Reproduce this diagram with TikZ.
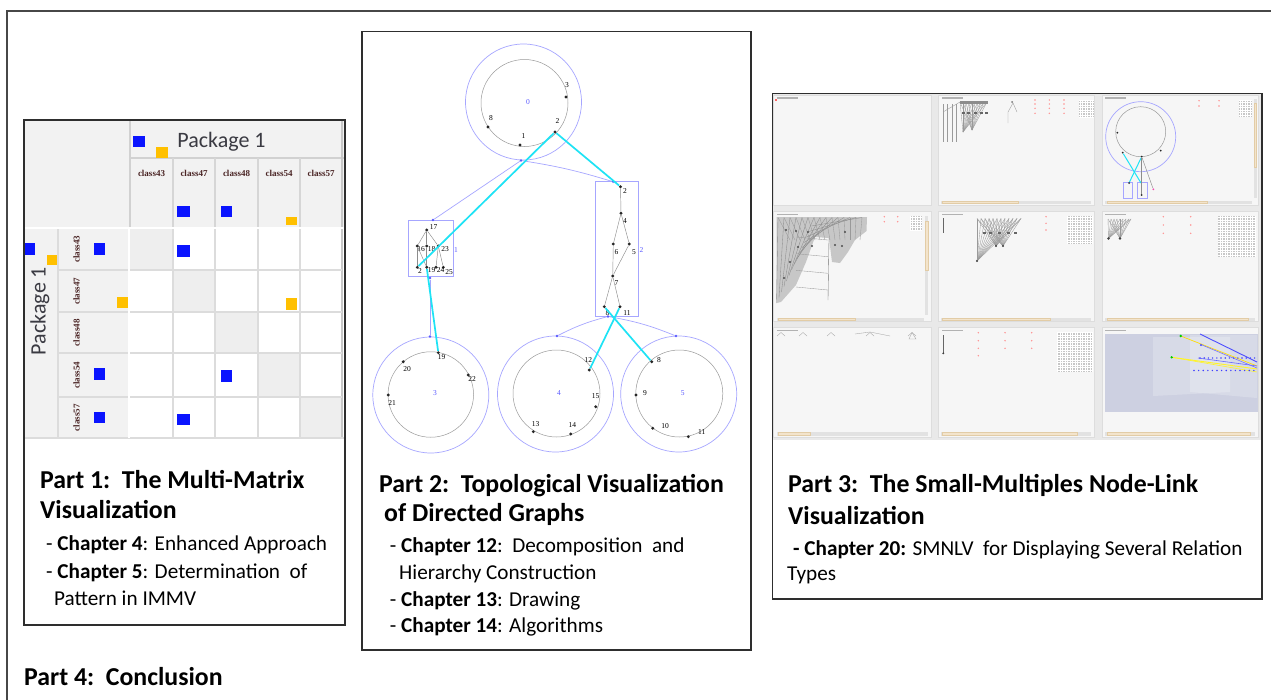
\documentclass[tikz,border=0pt]{standalone}
\usepackage{fontspec}
\setmainfont{Carlito}
\newfontfamily\numfont{Liberation Serif}
\usetikzlibrary{calc}

\definecolor{framegray}{HTML}{474747}
\definecolor{boxgray}{HTML}{2E2E2E}
\definecolor{hdrbg}{HTML}{F2F2F2}
\definecolor{gridgray}{HTML}{DCDCDC}
\definecolor{diaggray}{HTML}{EEEEEE}
\definecolor{mblue}{HTML}{0A14FF}
\definecolor{morange}{HTML}{FFC000}
\definecolor{pkgtext}{HTML}{3A3A42}
\definecolor{clstext}{HTML}{4A2424}
\definecolor{lblue}{HTML}{A6A6FF}
\definecolor{lbtext}{HTML}{5A5AFF}
\definecolor{cyanc}{HTML}{1EE3F5}
\definecolor{shotbg}{HTML}{E9E9E9}
\definecolor{panelbg}{HTML}{F6F6F6}
\definecolor{panelline}{HTML}{DDDDDD}
\definecolor{thumbc}{HTML}{F3E4CC}
\definecolor{thumbline}{HTML}{E2CCA6}
\definecolor{trackc}{HTML}{E2E2E2}
\definecolor{reddot}{HTML}{FF9090}
\definecolor{lavc}{HTML}{CDD0E1}
\definecolor{sprayc}{HTML}{9A9A9A}

\tikzset{
  partbox/.style={draw=boxgray, line width=1.4},
  gline/.style={draw=gridgray, line width=2.6},
  bsq/.style={fill=mblue},
  osq/.style={fill=morange},
  ttl/.style={anchor=base west, inner sep=0, font=\fontsize{25.8}{30}\selectfont\bfseries},
  chp/.style={anchor=base west, inner sep=0, font=\fontsize{21.2}{25}\selectfont},
  pkg/.style={inner sep=0, text=pkgtext, font=\fontsize{22}{24}\selectfont},
  cls/.style={inner sep=0, text=clstext, font=\numfont\bfseries\fontsize{9}{10}\selectfont},
  gdot/.style={circle, fill=black!85, inner sep=0, minimum size=3.2},
  glab/.style={inner sep=0, font=\numfont\fontsize{7.5}{8}\selectfont},
  blab/.style={inner sep=0, text=lbtext, font=\numfont\fontsize{7.5}{8}\selectfont},
  outc/.style={circle, draw=lblue, line width=0.7, inner sep=0},
  innc/.style={circle, draw=black!40, line width=0.5, inner sep=0},
  hmk/.style={circle, fill=lbtext, inner sep=0, minimum size=2.6},
  cyanl/.style={draw=cyanc, line width=1.7},
  hier/.style={draw=lblue, line width=0.7},
  tedge/.style={draw=black!45, line width=0.45},
  clbox/.style={draw=lblue, line width=0.8},
  panel/.style={draw=panelline, fill=panelbg, line width=0.6},
  thumb/.style={fill=thumbc, draw=thumbline, line width=0.4},
  track/.style={fill=trackc},
  rdot/.style={fill=reddot},
  spray/.style={draw=sprayc, line width=0.35},
  tinygrid/.style={fill=black!22},
}

\begin{document}
\begin{tikzpicture}[x=1pt,y=-1pt]
\useasboundingbox (0,0) rectangle (1271,699);
\fill[white] (0,0) rectangle (1271,699);

% outer frame, running off the right and bottom edges
\draw[framegray, line width=2] (7,720) -- (7,11) -- (1290,11);

% ================= Part 1: multi-matrix =================
\fill[hdrbg] (24,120) rectangle (345,227);
\fill[hdrbg] (24,229) rectangle (128,438);
\fill[white] (130,229) rectangle (342,438);
\foreach \xa/\ya/\xb/\yb in {130/229/173/270, 173/270/215/312, 215/312/258/353, 258/353/300/397, 300/397/342/438}
  \fill[diaggray] (\xa,\ya) rectangle (\xb,\yb);
% header grid
\draw[gline, draw=black!18] (130,120) -- (130,227);
\draw[gline, draw=black!18] (130,158) -- (345,158);
\foreach \x in {173,215,258,300}
  \draw[gline, draw=black!16] (\x,158) -- (\x,227);
\draw[gline, draw=black!22] (342,120) -- (342,438);
% cell grid
\foreach \x in {173,215,258,300}
  \draw[gline] (\x,229) -- (\x,438);
\foreach \y in {270,312,353,397}
  \draw[gline] (58,\y) -- (342,\y);
\draw[gline] (58,229) -- (58,438);
\draw[gline] (24,438) -- (345,438);
\draw[white, line width=2] (24,228) -- (345,228);
\draw[white, line width=2] (129,229) -- (129,438);

% headings
\node[pkg] (pkgtop) at (221.5,141.5) {Package 1};
\node[pkg, rotate=90] (pkgleft) at (40,311) {Package 1};
\foreach \lab/\x in {class43/151.5, class47/194, class48/236.5, class54/279, class57/321}
  \node[cls] (col-\lab) at (\x,173) {\lab};
\foreach \lab/\y in {class43/249, class47/291, class48/332.5, class54/375, class57/417.5}
  \node[cls, rotate=90] (row-\lab) at (76.5,\y) {\lab};

% relation markers
\fill[bsq] (133,136) rectangle (145,147);
\fill[osq] (156,147) rectangle (168,158);
\fill[bsq] (177,206) rectangle (190,217);
\fill[bsq] (221,206) rectangle (232,217);
\fill[osq] (286,217) rectangle (297,225);
\fill[bsq] (24.5,243) rectangle (35,255);
\fill[osq] (47,255) rectangle (57,265);
\fill[bsq] (94,243) rectangle (105,255);
\fill[osq] (117,297) rectangle (128,308);
\fill[bsq] (94,368) rectangle (105,380);
\fill[bsq] (94,412) rectangle (105,423);
\fill[bsq] (177,245) rectangle (190,257);
\fill[osq] (286,298) rectangle (297,310);
\fill[bsq] (221,370) rectangle (232,382);
\fill[bsq] (177,414) rectangle (190,425);

\draw[partbox] (24,120) rectangle (345,625);

\node[ttl] (p1a) at (40,488) {Part 1:\ \ The Multi-Matrix};
\node[ttl] (p1b) at (40,518) {Visualization};
\node[chp] (p1c) at (46,550) {- \textbf{Chapter 4}: Enhanced Approach};
\node[chp] (p1d) at (46,578) {- \textbf{Chapter 5}: Determination\ \ of};
\node[chp] (p1e) at (54,605) {Pattern in IMMV};

% ================= Part 2: topological graph =================
\draw[partbox] (362,31.5) rectangle (751,650);

% clusters
\node[outc, minimum size=116] (c0o) at (523.5,102) {};
\node[innc, minimum size=87] (c0i) at (524.5,103) {};
\node[outc, minimum size=116] (c3o) at (430.8,395) {};
\node[innc, minimum size=85.5] (c3i) at (430.8,394.5) {};
\node[outc, minimum size=116] (c4o) at (555.5,394) {};
\node[innc, minimum size=87] (c4i) at (556.5,393.5) {};
\node[outc, minimum size=116] (c5o) at (678.7,394) {};
\node[innc, minimum size=87] (c5i) at (679.3,393.5) {};
\draw[clbox] (408.3,220) rectangle (453.3,276.7);
\draw[clbox] (595,181.7) rectangle (638.3,316);

\node[blab] (k0) at (528,102) {0};
\node[blab] (k1) at (456,250) {1};
\node[blab] (k2) at (641.5,250) {2};
\node[blab] (k3) at (435,393) {3};
\node[blab] (k4) at (559,393.5) {4};
\node[blab] (k5) at (682.7,393.5) {5};

% hierarchy markers and links
\node[hmk] (m0) at (521,160.5) {};
\node[hmk] (mlt) at (433,220) {};
\node[hmk] (mrt) at (613,181.7) {};
\node[hmk] (mlb) at (430,278) {};
\node[hmk] (mrb) at (608,316.5) {};
\node[hmk] (m3) at (430,336.5) {};
\node[hmk] (m4) at (557,336) {};
\node[hmk] (m5) at (676,336) {};
\draw[hier] (m0) -- (mlt);
\draw[hier] (m0) to[bend left=4] (mrt);
\draw[hier] (mlb) -- (m3);
\draw[hier] (mrb) to[bend right=6] (m4);
\draw[hier] (mrb) to[bend left=6] (m5);

% top cluster vertices
\node[gdot] (t3) at (566,97) {};
\node[gdot] (t8) at (488,127) {};
\node[gdot] (t1) at (520,145) {};
\node[gdot] (t2) at (555,132) {};
\node[glab] (lt3) at (567,85.5) {3};
\node[glab] (lt8) at (491,118) {8};
\node[glab] (lt1) at (523.5,136) {1};
\node[glab] (lt2) at (557.5,121) {2};

% left box vertices
\node[gdot] (a17) at (426.7,230) {};
\node[gdot] (a16) at (417.3,246) {};
\node[gdot] (a18) at (426.7,246) {};
\node[gdot] (a23) at (438.3,246) {};
\node[gdot] (a2) at (417.3,267.3) {};
\node[gdot] (a19) at (426.7,267.3) {};
\node[gdot] (a24) at (436,267.3) {};
\node[gdot] (a25) at (443.3,267.3) {};
\node[glab] (la17) at (433.5,227.5) {17};
\node[glab] (la16) at (421,249.5) {16};
\node[glab] (la18) at (431.5,249.5) {18};
\node[glab] (la23) at (445,249.5) {23};
\node[glab] (la2) at (420,271) {2};
\node[glab] (la19) at (431.5,270.5) {19};
\node[glab] (la24) at (440.5,270.5) {24};
\node[glab] (la25) at (449,272) {25};
\draw[tedge] (a17) -- (a16);
\draw[tedge] (a17) -- (a18);
\draw[tedge] (a17) -- (a23);
\draw[tedge] (a16) -- (a2);
\draw[tedge] (a18) -- (a19);
\draw[tedge] (a23) -- (a24);
\draw[tedge] (a23) -- (a25);
\draw[tedge] (a16) -- (a19);

% right box vertices
\node[gdot] (b2) at (620.5,186.7) {};
\node[gdot] (b4) at (621,213.3) {};
\node[gdot] (b6) at (613.3,244) {};
\node[gdot] (b5) at (629.3,244) {};
\node[gdot] (b7) at (612.7,276) {};
\node[gdot] (b8) at (604.3,306.7) {};
\node[gdot] (b11) at (620,306.7) {};
\node[glab] (lb2) at (625,191) {2};
\node[glab] (lb4) at (625,221) {4};
\node[glab] (lb6) at (616.5,251.7) {6};
\node[glab] (lb5) at (634,251.7) {5};
\node[glab] (lb7) at (616.5,282.7) {7};
\node[glab] (lb8) at (607.5,313.3) {8};
\node[glab] (lb11) at (627,313.3) {11};
\draw[tedge] (b2) -- (b4);
\draw[tedge] (b4) -- (b6);
\draw[tedge] (b4) -- (b5);
\draw[tedge] (b6) -- (b7);
\draw[tedge] (b5) -- (b7);
\draw[tedge] (b7) -- (b8);
\draw[tedge] (b7) -- (b11);

% bottom clusters vertices
\node[gdot] (d19) at (438.3,352.7) {};
\node[gdot] (d20) at (403.3,361.7) {};
\node[gdot] (d22) at (468.3,375) {};
\node[gdot] (d21) at (388.3,395) {};
\node[glab] (ld19) at (441.5,357.5) {19};
\node[glab] (ld20) at (407,369.3) {20};
\node[glab] (ld22) at (472,379.3) {22};
\node[glab] (ld21) at (392,403.3) {21};

\node[gdot] (e12) at (589.3,370) {};
\node[gdot] (e15) at (595.7,406.7) {};
\node[gdot] (e13) at (533.3,431.7) {};
\node[gdot] (e14) at (570.7,434) {};
\node[glab] (le12) at (588.3,360) {12};
\node[glab] (le15) at (595.7,396) {15};
\node[glab] (le13) at (535.7,424.3) {13};
\node[glab] (le14) at (572.3,425) {14};

\node[gdot] (f8) at (651.7,361.7) {};
\node[gdot] (f9) at (636,395) {};
\node[gdot] (f10) at (652.7,428.3) {};
\node[gdot] (f11) at (688.3,436.7) {};
\node[glab] (lf8) at (659,360.5) {8};
\node[glab] (lf9) at (645,393.3) {9};
\node[glab] (lf10) at (665,426) {10};
\node[glab] (lf11) at (701.7,432.3) {11};

% inter-cluster edges
\draw[cyanl] (t2) -- (b2);
\draw[cyanl] (t2) -- (a2);
\draw[cyanl] (a19) -- (d19);
\draw[cyanl] (b8) -- (f8);
\draw[cyanl] (b11) -- (e12);

\node[ttl] (p2a) at (379,492) {Part 2:\ \ Topological Visualization};
\node[ttl] (p2b) at (384,521) {of Directed Graphs};
\node[chp] (p2c) at (389.7,552) {- \textbf{Chapter 12}:\ \ Decomposition\ \ and};
\node[chp] (p2d) at (399,579.5) {Hierarchy Construction};
\node[chp] (p2e) at (389.7,606) {- \textbf{Chapter 13}: Drawing};
\node[chp] (p2f) at (389.7,632) {- \textbf{Chapter 14}: Algorithms};

% ================= Part 3: small multiples =================
\fill[shotbg] (772.5,93.5) rectangle (1261.5,440);
\foreach \xa/\xb in {773.5/931, 938.5/1094.5, 1102/1258.5}
  \foreach \ya/\yb in {95/205, 211.7/321.7, 327.3/437} {
    \draw[panel] (\xa,\ya) rectangle (\xb,\yb);
    \fill[black!30] (\xa+3,\ya+2.3) rectangle (\xa+24,\ya+3.6);
  }
\fill[red!60] (775,99) rectangle (776.5,100.5);

% horizontal scrollbars
\foreach \xa/\xb/\ta/\tb/\y in {
   941/1091/942/1018/200.5, 1105/1252/1107/1207/200.5,
   777/924/778/855/317.5, 941/1091/942/1050/317.5, 1105/1255/1107/1248/317.5,
   777/928/778/810/432.3, 941/1091/942/1077/432.3, 1105/1255/1107/1250/432.3} {
  \fill[track] (\xa,\y) rectangle (\xb,\y+3.2);
  \draw[thumb] (\ta,\y+0.3) rectangle (\tb,\y+2.9);
}
% vertical scrollbars
\fill[track] (1253.5,99) rectangle (1256.5,198);
\draw[thumb] (1253.8,103) rectangle (1256.2,167);
\fill[track] (925,216) rectangle (928.3,315);
\draw[thumb] (925.3,221) rectangle (928,270);

% panel: aggregation tree
\foreach \x in {943,947,952,956} \draw[spray] (\x,104) -- (\x,142);
\foreach \x in {960,963,966,969,972,975,978,981,984,987} {
  \draw[spray] (\x,102) -- (963,132);
  \draw[spray] (\x,102) -- (972,130);
}
\fill[black!45] (960,101) rectangle (988,104);
\foreach \x in {963,968,975,981,986} \fill[black!60] (\x-1.5,112) rectangle (\x+1.5,114);
\draw[spray] (943,112) -- (960,102);
\draw[spray] (1013,103) -- (1008,112) -- (1008,123);
\draw[spray] (1013,103) -- (1017,112);
\fill[black!55] (1012,102) circle (1);
\foreach \x in {1035,1049.3,1064} \foreach \y in {100,104,108.3,113.3} \fill[rdot] (\x,\y) circle (0.8);
\fill[tinygrid] (1079.3,100) rectangle (1094,118.3);
\draw[white, line width=0.3, step=2.5pt] (1079.3,100) grid (1094,118.3);

% panel: nested-circle layout
\node[outc, minimum size=70] (s13o) at (1140.7,136.7) {};
\node[innc, minimum size=50] (s13i) at (1140.7,131.7) {};
\node[gdot, minimum size=2] (s1) at (1117.3,132.7) {};
\node[gdot, minimum size=2] (s2) at (1122.7,152.7) {};
\node[gdot, minimum size=2] (s3) at (1141.7,156.7) {};
\node[gdot, minimum size=2] (s4) at (1160.7,150.7) {};
\draw[clbox, line width=0.4] (1123.3,181.7) rectangle (1131.7,198.3);
\draw[clbox, line width=0.4] (1137,181.7) rectangle (1146.7,198.3);
\node[gdot, minimum size=2] (s5) at (1129,183) {};
\node[gdot, minimum size=2] (s6) at (1141.7,195) {};
\node[gdot, minimum size=2, fill=magenta!70] (s7) at (1153.3,189.3) {};
\draw[cyanl, line width=1] (s2) -- (1141,183);
\draw[cyanl, line width=1] (s3) -- (s5);
\draw[cyanl, line width=1] (s3) -- (1141.7,181);
\draw[tedge] (s3) -- (s6);
\draw[tedge] (s3) -- (s7);
\foreach \x in {1199,1219} \foreach \y in {100.7,106} \fill[rdot] (\x,\y) circle (0.8);
\fill[tinygrid] (1239.3,100) rectangle (1251.7,116.7);
\draw[white, line width=0.3, step=2.5pt] (1239.3,100) grid (1251.7,116.7);

% panel: dense wireframe
\fill[black!22] (776.5,217) -- (867,217) -- (866.5,231) -- (855,240) -- (848,252) -- (840,263) -- (832,262) -- (829,238)
   -- (815,237) -- (806,262) -- (796,285) -- (781,302) -- (776.5,303) -- cycle;
\foreach \i in {0,...,14} {
  \draw[spray, draw=black!45] (778+6*\i,217.5) -- (776.5+2.5*\i,303-5.5*\i);
  \draw[spray, draw=black!40] (778+6*\i,217.5) -- (790+5*\i,240);
}
\draw[spray, draw=black!55] (829,238) -- (828,300);
\foreach \y in {240,256.7,273.3,290} \draw[spray] (796,\y-3) -- (828,\y);
\foreach \p in {(786,230),(796,231),(808,232),(812,246),(798,247),(790,262),(784,278),(835,245),(842,246),(845,232)}
  \fill[black!70] \p circle (1.1);
\foreach \x in {884.3,897.7} \foreach \y in {216.7,221.7} \fill[rdot] (\x,\y) circle (0.8);
\fill[tinygrid] (910,216) rectangle (922.3,230);
\draw[white, line width=0.3, step=2.5pt] (910,216) grid (922.3,230);

% panel: fan-shaped trees
\draw[spray, draw=black!60, line width=0.8] (943.3,218.3) -- (943.3,233.3);
\foreach \x in {977,981,985,989,993,997,1001,1005,1009,1013,1017,1021} {
  \draw[spray] (\x,218.5) -- (977,261);
  \draw[spray] (\x,218.5) -- (996,246);
  \draw[spray] (\x,218.5) -- (1003,246);
}
\foreach \x in {984,990,999,1008,1015} \fill[black!60] (\x-1.5,232) rectangle (\x+1.5,234);
\foreach \p in {(977,261),(996,246),(1003,246)} \fill[black!75] \p circle (1.2);
\foreach \y in {216.7,223.3,230} \fill[rdot] (1046,\y) circle (0.8);
\fill[tinygrid] (1067.3,216) rectangle (1092.7,244);
\draw[white, line width=0.3, step=2.5pt] (1067.3,216) grid (1092.7,244);

% panel: trees
\foreach \x in {1108,1111,1114,1117,1120,1123,1126,1129,1131} {
  \draw[spray] (\x,219) -- (1108.5,238.5);
  \draw[spray] (\x,219) -- (1120,238.5);
}
\foreach \p in {(1108.5,238.5),(1120,238.5)} \fill[black!75] \p circle (1.3);
\foreach \x in {1163.3,1190.7} \foreach \y in {216.7,225,233.3} \fill[rdot] (\x,\y) circle (0.8);
\fill[tinygrid] (1218.3,216) rectangle (1255,256.7);
\draw[white, line width=0.3, step=2.5pt] (1218.3,216) grid (1255,256.7);

% panel: small forest
\foreach \x in {781,803,831,870,912} {
  \draw[spray, draw=black!35] (\x-4,336) -- (\x,332.5) -- (\x+4,336);
}
\draw[spray, draw=black!35] (855,334) -- (870,332) -- (890,336);
\draw[spray, draw=black!35] (912,332.5) -- (909,339) -- (916,339) -- cycle;

% panel: chain and matrix
\draw[spray, draw=black!60, line width=0.9] (943.3,335) -- (943.3,353.3);
\fill[black!75] (943.3,353.3) circle (1.1);
\foreach \x in {978.3,1005,1031.7} \foreach \y in {332.7,340.7,348.3} \fill[rdot] (\x,\y) circle (0.8);
\fill[rdot] (978.3,355.7) circle (0.8);
\fill[tinygrid] (1057.3,331.7) rectangle (1092.7,371.7);
\draw[white, line width=0.3, step=2.5pt] (1057.3,331.7) grid (1092.7,371.7);

% panel: 3D view
\fill[lavc] (1104.5,333.5) rectangle (1258,411.5);
\fill[white, opacity=0.22] (1153,337) -- (1230,337) -- (1230,392) -- (1153,396) -- cycle;
\fill[white, opacity=0.22] (1190,335) -- (1257,335) -- (1257,398) -- (1190,392) -- cycle;
\draw[yellow!80!orange, line width=0.7] (1180.7,336) -- (1257,366);
\draw[yellow!85, line width=0.9] (1171.7,357.3) -- (1257,369);
\draw[yellow!85, line width=0.6] (1171.7,357.3) -- (1257,372);
\draw[blue!70, line width=0.9] (1200,334) -- (1257,362);
\draw[blue!55, line width=0.6] (1202,345) -- (1257,368);
\draw[blue!60, line width=0.6] (1198,358) -- (1257,366);
\foreach \i in {0,...,13} {
  \fill[blue!75] (1200+4.2*\i,358) circle (0.8);
  \fill[blue!75] (1194+4.6*\i,370.5) circle (0.8);
}
\fill[green!80!black] (1180.7,336) circle (1.3);
\fill[green!80!black] (1171.7,357.3) circle (1.3);
\fill[blue!75] (1201,345) circle (1.1);

\draw[partbox, line width=1.8] (772.5,93.5) rectangle (1262,599);

\node[ttl] (p3a) at (788,492) {Part 3:\ \ The Small-Multiples Node-Link};
\node[ttl] (p3b) at (788,524) {Visualization};
\node[chp] (p3c) at (793,555) {\textbf{- Chapter 20:} SMNLV\ \ for Displaying Several Relation};
\node[chp] (p3d) at (787,580) {Types};

% ================= Part 4 =================
\node[ttl] (p4) at (24,685) {Part 4:\ \ Conclusion};

\end{tikzpicture}
\end{document}
